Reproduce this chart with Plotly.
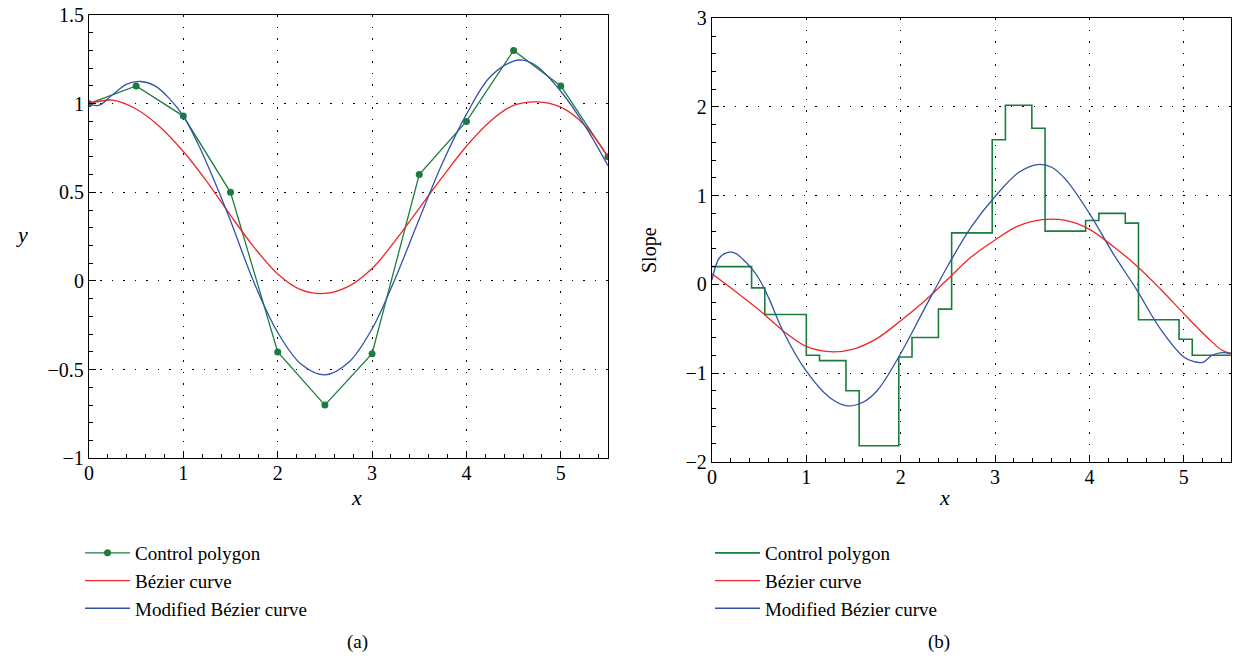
import plotly.graph_objects as go

# (a) control polygon and curves
ctrl_x = [0, 0.5, 1.0, 1.5, 2.0, 2.5, 3.0, 3.5, 4.0, 4.5, 5.0, 5.5]
ctrl_y = [1.00, 1.10, 0.93, 0.50, -0.40, -0.70, -0.41, 0.60, 0.90, 1.30, 1.10, 0.70]

bez_x = [0, 0.25, 0.5, 0.75, 1.0, 1.25, 1.5, 1.75, 2.0, 2.25, 2.5, 2.75, 3.0,
         3.25, 3.5, 3.75, 4.0, 4.25, 4.5, 4.75, 5.0, 5.25, 5.5]
bez_y = [1.00, 1.02, 0.97, 0.87, 0.73, 0.56, 0.37, 0.19, 0.04, -0.05, -0.07, -0.03, 0.07,
         0.23, 0.41, 0.59, 0.76, 0.90, 0.99, 1.01, 0.98, 0.88, 0.70]

mod_x = [0, 0.1, 0.25, 0.4, 0.55, 0.7, 0.85, 1.0, 1.15, 1.3, 1.5, 1.75, 2.0, 2.25, 2.5,
         2.75, 3.0, 3.25, 3.5, 3.75, 4.0, 4.25, 4.5, 4.6, 4.75, 5.0, 5.25, 5.5]
mod_y = [1.00, 0.99, 1.05, 1.11, 1.125, 1.10, 1.03, 0.93, 0.78, 0.60, 0.34, -0.01, -0.29, -0.47, -0.53,
         -0.46, -0.27, 0.02, 0.35, 0.67, 0.94, 1.15, 1.24, 1.245, 1.21, 1.07, 0.88, 0.65]

# (b) slopes
step_x = [0, 0.42, 0.56, 1.0, 1.14, 1.42, 1.56, 1.98, 2.12, 2.40, 2.54, 2.97, 3.11,
          3.39, 3.53, 3.96, 4.10, 4.38, 4.52, 4.95, 5.09, 5.5]
step_y = [0.20, -0.04, -0.34, -0.80, -0.86, -1.20, -1.82, -0.82, -0.60, -0.28, 0.58,
          1.63, 2.02, 1.76, 0.60, 0.72, 0.80, 0.69, -0.40, -0.62, -0.80]

sbez_x = [0, 0.25, 0.5, 0.75, 1.0, 1.25, 1.5, 1.75, 2.0, 2.25, 2.5, 2.75, 3.0,
          3.25, 3.5, 3.75, 4.0, 4.25, 4.5, 4.75, 5.0, 5.25, 5.4, 5.5]
sbez_y = [0.12, -0.08, -0.29, -0.52, -0.70, -0.76, -0.73, -0.61, -0.41, -0.19, 0.06, 0.31, 0.50,
          0.66, 0.73, 0.72, 0.62, 0.43, 0.21, -0.05, -0.33, -0.60, -0.74, -0.78]

smod_x = [0, 0.08, 0.17, 0.25, 0.33, 0.42, 0.5, 0.6, 0.75, 1.0, 1.25, 1.43, 1.6, 1.75, 2.0,
          2.25, 2.5, 2.75, 3.0, 3.25, 3.45, 3.6, 3.75, 4.0, 4.25, 4.5, 4.75, 5.0, 5.1,
          5.2, 5.3, 5.4, 5.5]
smod_y = [0.05, 0.30, 0.36, 0.35, 0.28, 0.18, 0.06, -0.15, -0.52, -0.98, -1.28, -1.37, -1.33, -1.20, -0.78,
          -0.28, 0.21, 0.65, 0.99, 1.26, 1.35, 1.32, 1.18, 0.80, 0.35, -0.06, -0.50, -0.82, -0.87,
          -0.88, -0.80, -0.77, -0.78]

GREEN = "#1b7d3c"
RED = "#f0262a"
BLUE = "#3353a6"
FONT = "Liberation Serif, DejaVu Serif, serif"

fig = go.Figure()

# left panel
fig.add_trace(go.Scatter(x=ctrl_x, y=ctrl_y, mode="lines+markers", name="Control polygon",
                         line=dict(color=GREEN, width=1.3), marker=dict(color=GREEN, size=7),
                         xaxis="x", yaxis="y", legend="legend"))
fig.add_trace(go.Scatter(x=bez_x, y=bez_y, mode="lines", name="Bézier curve",
                         line=dict(color=RED, width=1.3, shape="spline"),
                         xaxis="x", yaxis="y", legend="legend"))
fig.add_trace(go.Scatter(x=mod_x, y=mod_y, mode="lines", name="Modified Bézier curve",
                         line=dict(color=BLUE, width=1.3, shape="spline"),
                         xaxis="x", yaxis="y", legend="legend"))

# right panel
fig.add_trace(go.Scatter(x=step_x, y=step_y + [step_y[-1]], mode="lines", name="Control polygon",
                         line=dict(color=GREEN, width=1.6, shape="hv"),
                         xaxis="x2", yaxis="y2", legend="legend2"))
fig.add_trace(go.Scatter(x=sbez_x, y=sbez_y, mode="lines", name="Bézier curve",
                         line=dict(color=RED, width=1.3, shape="spline"),
                         xaxis="x2", yaxis="y2", legend="legend2"))
fig.add_trace(go.Scatter(x=smod_x, y=smod_y, mode="lines", name="Modified Bézier curve",
                         line=dict(color=BLUE, width=1.3, shape="spline"),
                         xaxis="x2", yaxis="y2", legend="legend2"))

grid = dict(showgrid=True, gridcolor="black", gridwidth=1, griddash="1.5px,10px",
            showline=True, linecolor="black", linewidth=1.2, mirror=True,
            ticks="inside", ticklen=7, tickcolor="black", zeroline=False, automargin=False,
            ticklabeloverflow="allow",
            tickfont=dict(family=FONT, size=20, color="black"))
minor_ax = dict(ticks="inside", ticklen=4, tickcolor="black")

fig.update_layout(
    template="none",
    width=1241, height=667,
    margin=dict(l=0, r=0, t=0, b=0, autoexpand=False),
    paper_bgcolor="white", plot_bgcolor="white",
    font=dict(family=FONT, size=19, color="black"),
    xaxis=dict(domain=[0.0717, 0.4899], range=[0, 5.5], dtick=1, anchor="y",
               ticklabelstandoff=-3, minor=dict(dtick=0.2, **minor_ax), **grid),
    yaxis=dict(domain=[0.3129, 0.9775], range=[-1, 1.5], dtick=0.5, anchor="x",
               minor=dict(dtick=0.1, **minor_ax), **grid),
    xaxis2=dict(domain=[0.5737, 0.9919], range=[0, 5.5], dtick=1, anchor="y2",
                ticklabelstandoff=-3, minor=dict(dtick=0.2, **minor_ax), **grid),
    yaxis2=dict(domain=[0.3078, 0.9726], range=[-2, 3], dtick=1, anchor="x2",
                minor=dict(dtick=0.2, **minor_ax), **grid),
    legend=dict(x=0.0645, y=0.1994, xanchor="left", yanchor="top", bgcolor="rgba(0,0,0,0)",
                font=dict(family=FONT, size=19), itemwidth=45, tracegroupgap=0),
    legend2=dict(x=0.5721, y=0.1994, xanchor="left", yanchor="top", bgcolor="rgba(0,0,0,0)",
                 font=dict(family=FONT, size=19), itemwidth=45, tracegroupgap=0),
    annotations=[
        dict(text="<i>x</i>", x=0.2812, y=0.2324, xref="paper", yref="paper", showarrow=False,
             font=dict(family=FONT, size=22)),
        dict(text="<i>x</i>", x=0.7671, y=0.2324, xref="paper", yref="paper", showarrow=False,
             font=dict(family=FONT, size=22)),
        dict(text="<i>y</i>", x=0.0113, y=0.6477, xref="paper", yref="paper", showarrow=False,
             font=dict(family=FONT, size=22)),
        dict(text="Slope", x=0.5238, y=0.6252, xref="paper", yref="paper", showarrow=False,
             textangle=-90, font=dict(family=FONT, size=20)),
        dict(text="(a)", x=0.278, y=0.018, xref="paper", yref="paper", showarrow=False,
             font=dict(family=FONT, size=19)),
        dict(text="(b)", x=0.7671, y=0.018, xref="paper", yref="paper", showarrow=False,
             font=dict(family=FONT, size=19)),
    ],
)

# drop the default body margin so the figure fills the window exactly
fig.write_html("out.html", config={"displayModeBar": False},
               post_script="document.body.style.margin='0px';")
